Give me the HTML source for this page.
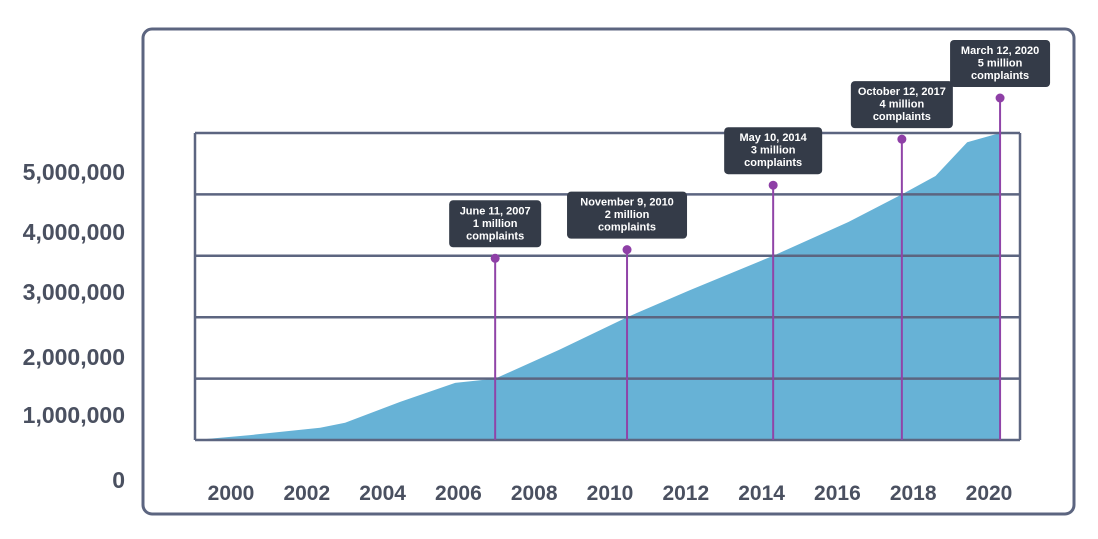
<!DOCTYPE html>
<html><head><meta charset="utf-8"><style>
body{margin:0;background:#fff;width:1098px;height:534px;overflow:hidden;font-family:"Liberation Sans",sans-serif}
</style></head><body>
<svg width="1098" height="534">
<rect x="143" y="29" width="931" height="485" rx="9" fill="none" stroke="#5c6580" stroke-width="3"/>
<g id="area"></g><g id="grid"></g><g id="ylab"></g><g id="xlab"></g><g id="ann"></g>
</svg>
<script>
const years=[2000,2001.39,2003.16,2003.79,2005.18,2006.57,2007.58,2009.2,2010.91,2012.5,2014.6,2016.5,2017.85,2018.7,2019.5,2020.33];
const totals=[0,0.08,0.2,0.28,0.62,0.93,1.0,1.47,2.0,2.44,3.0,3.55,4.0,4.3,4.85,5.0];
const gridVals=[0,1,2,3,4,5];
const yTickLabels=["0","1,000,000","2,000,000","3,000,000","4,000,000","5,000,000"];
const xTicks=[2000,2002,2004,2006,2008,2010,2012,2014,2016,2018,2020];
const annDates=["June 11, 2007","November 9, 2010","May 10, 2014","October 12, 2017","March 12, 2020"];
const annYears=[2007.58,2010.91,2014.6,2017.85,2020.33];
const annMillions=[1,2,3,4,5];
const annDotY=[2.96,3.1,4.15,4.9,5.57];
const NS="http://www.w3.org/2000/svg";
const X=t=>195+(t-2000)*39.6;
const Y=v=>440-v*61.4;
const XL=t=>231+(t-2000)*37.9;
const boxW=[92,120,98,102,100];
function mk(tag,attrs,parent){const e=document.createElementNS(NS,tag);for(const k in attrs)e.setAttribute(k,attrs[k]);document.getElementById(parent).appendChild(e);return e;}
let d="M"+X(years[0])+","+Y(0);
years.forEach((t,i)=>{d+=" L"+X(t)+","+Y(totals[i]);});
d+=" L"+X(years[years.length-1])+","+Y(0)+" Z";
const ar=mk("path",{d:d,fill:"#67b2d6"},"area");


gridVals.forEach(v=>{const l=mk("line",{x1:195,x2:1020,y1:Y(v),y2:Y(v),stroke:"#5c6580","stroke-width":2.5},"grid");

});
["195","1020"].forEach(x=>{const l=mk("line",{x1:x,x2:x,y1:Y(5),y2:Y(0),stroke:"#5c6580","stroke-width":2.5},"grid");

});
const labY=[480,415,357,292,232,172];
yTickLabels.forEach((s,i)=>{const t=mk("text",{x:125,y:labY[i]+8,"text-anchor":"end","font-size":23,"font-weight":"bold",fill:"#4a5060"},"ylab");t.textContent=s;

});
xTicks.forEach(yr=>{const t=mk("text",{x:XL(yr),y:500,"text-anchor":"middle","font-size":21,"font-weight":"bold",fill:"#4a5060"},"xlab");t.textContent=yr;

});
annYears.forEach((t,i)=>{const x=X(t),dy=Y(annDotY[i]);
const ln=mk("line",{x1:x,x2:x,y1:dy,y2:440,stroke:"#9044a8","stroke-width":2},"ann");


const c=mk("circle",{cx:x,cy:dy,r:4.5,fill:"#8e3fa6"},"ann");


const w=boxW[i],h=47,bx=x-w/2,by=dy-58;
const r=mk("rect",{x:bx,y:by,width:w,height:h,rx:4,fill:"#343b48"},"ann");


[annDates[i],annMillions[i]+" million","complaints"].forEach((s,j)=>{const tx=mk("text",{x:x,y:by+14+j*12.5,"text-anchor":"middle","font-size":11,"font-weight":"bold",fill:"#fff"},"ann");tx.textContent=s;

});
});
</script>
</body></html>
